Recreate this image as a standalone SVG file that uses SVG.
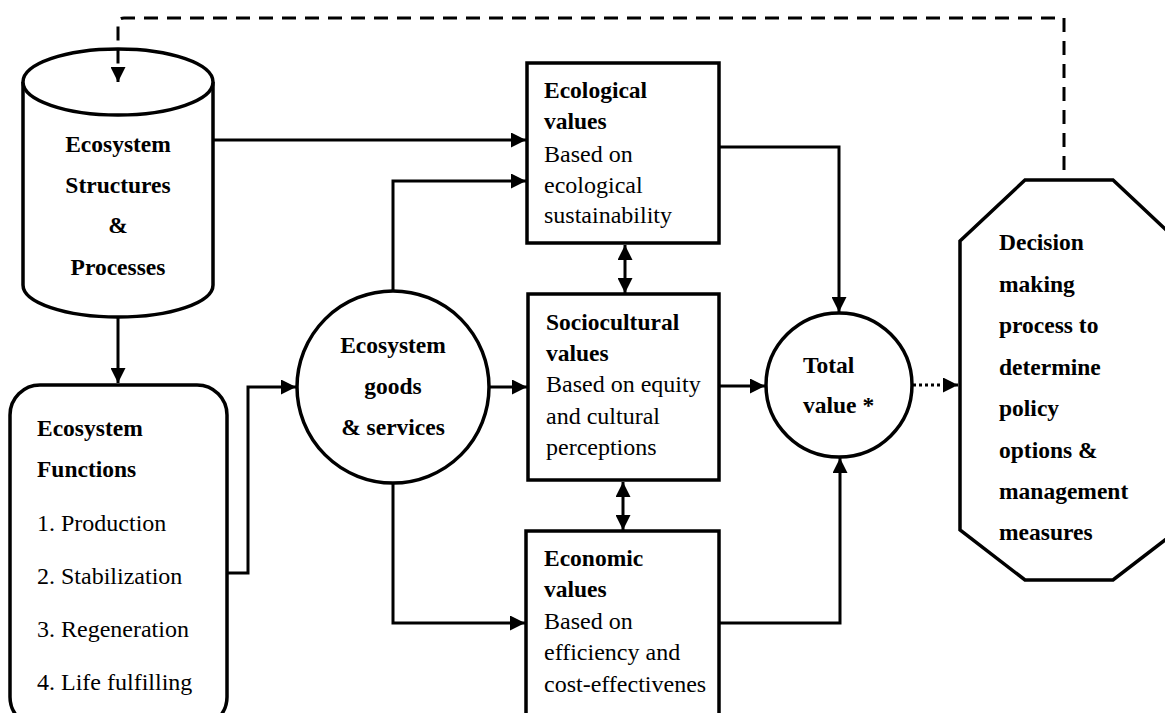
<svg xmlns="http://www.w3.org/2000/svg" width="1165" height="713" viewBox="0 0 1165 713">
<style>
.shape{fill:#fff;stroke:#000;stroke-width:3.5}
.ln{fill:none;stroke:#000;stroke-width:3}
.dash{stroke-dasharray:14 9}
.dot{stroke-dasharray:3 3}
text{font-family:"Liberation Serif","Times New Roman",serif;fill:#000}
.b{font-weight:bold;font-size:23.5px}
.r{font-size:24px}
.c{text-anchor:middle}
</style>
<defs>
<marker id="ah" markerUnits="userSpaceOnUse" markerWidth="16" markerHeight="15" refX="15" refY="7.5" orient="auto-start-reverse">
<path d="M0,0 L15,7.5 L0,15 z" fill="#000"/>
</marker>
</defs>
<rect width="1165" height="713" fill="#fff"/>

<g id="structures">
<path class="shape" d="M23,82 V285 A95,32 0 0 0 213,285 V82"/>
<ellipse class="shape" cx="118" cy="82" rx="95" ry="33"/>
<text class="b c" x="118" y="152">Ecosystem</text>
<text class="b c" x="118" y="193">Structures</text>
<text class="b c" x="118" y="233">&amp;</text>
<text class="b c" x="118" y="275">Processes</text>
</g>

<g id="functions">
<rect class="shape" x="10" y="385" width="217" height="342" rx="30"/>
<text class="b" x="37" y="436">Ecosystem</text>
<text class="b" x="37" y="477">Functions</text>
<text class="r" x="37" y="531">1. Production</text>
<text class="r" x="37" y="584">2. Stabilization</text>
<text class="r" x="37" y="637">3. Regeneration</text>
<text class="r" x="37" y="690">4. Life fulfilling</text>
</g>

<g id="goods">
<circle class="shape" cx="393" cy="387" r="96"/>
<text class="b c" x="393" y="353">Ecosystem</text>
<text class="b c" x="393" y="394">goods</text>
<text class="b c" x="393" y="435">&amp; services</text>
</g>

<g id="ecological">
<rect class="shape" x="527" y="63" width="192" height="180"/>
<text class="b" x="544" y="98">Ecological</text>
<text class="b" x="544" y="129">values</text>
<text class="r" x="544" y="162">Based on</text>
<text class="r" x="544" y="193">ecological</text>
<text class="r" x="544" y="223">sustainability</text>
</g>

<g id="sociocultural">
<rect class="shape" x="528" y="294" width="191" height="186"/>
<text class="b" x="546" y="330">Sociocultural</text>
<text class="b" x="546" y="361">values</text>
<text class="r" x="546" y="392">Based on equity</text>
<text class="r" x="546" y="424">and cultural</text>
<text class="r" x="546" y="455">perceptions</text>
</g>

<g id="economic">
<rect class="shape" x="526" y="531" width="193" height="200"/>
<text class="b" x="544" y="566">Economic</text>
<text class="b" x="544" y="597">values</text>
<text class="r" x="544" y="629">Based on</text>
<text class="r" x="544" y="660">efficiency and</text>
<text class="r" x="544" y="692">cost-effectivenes</text>
</g>

<g id="total">
<ellipse class="shape" cx="839" cy="385" rx="73" ry="72"/>
<text class="b" x="803" y="373">Total</text>
<text class="b" x="803" y="413">value *</text>
</g>

<g id="decision">
<polygon class="shape" points="1025,180 1113,180 1178,241 1178,530 1113,580 1025,580 960,530 960,241"/>
<text class="b" x="999" y="250">Decision</text>
<text class="b" x="999" y="292">making</text>
<text class="b" x="999" y="333">process to</text>
<text class="b" x="999" y="375">determine</text>
<text class="b" x="999" y="416">policy</text>
<text class="b" x="999" y="458">options &amp;</text>
<text class="b" x="999" y="499">management</text>
<text class="b" x="999" y="540">measures</text>
</g>

<g id="connectors">
<path class="ln" d="M118,318 V383" marker-end="url(#ah)"/>
<path class="ln" d="M213,140 H526" marker-end="url(#ah)"/>
<path class="ln" d="M227,573 H248 V387 H296" marker-end="url(#ah)"/>
<path class="ln" d="M393,291 V181 H526" marker-end="url(#ah)"/>
<path class="ln" d="M490,387 H527" marker-end="url(#ah)"/>
<path class="ln" d="M393,483 V623 H525" marker-end="url(#ah)"/>
<path class="ln" d="M625,245 V293" marker-start="url(#ah)" marker-end="url(#ah)"/>
<path class="ln" d="M623,482 V530" marker-start="url(#ah)" marker-end="url(#ah)"/>
<path class="ln" d="M719,147 H839 V312" marker-end="url(#ah)"/>
<path class="ln" d="M719,386 H765" marker-end="url(#ah)"/>
<path class="ln" d="M719,623 H840 V458" marker-end="url(#ah)"/>
<path class="ln dot" d="M913,385 H958" marker-end="url(#ah)"/>
<path class="ln dash" d="M1064,170 V18 H124 Q118,18 118,24 V82" marker-end="url(#ah)"/>
</g>
</svg>
